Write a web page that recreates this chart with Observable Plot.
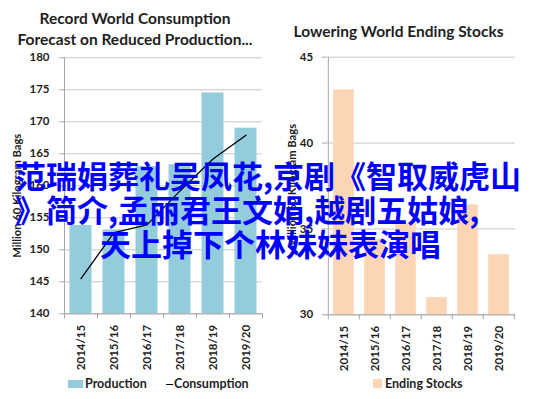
<!DOCTYPE html>
<html><head><meta charset="utf-8">
<script src="https://cdn.jsdelivr.net/npm/d3@7"></script>
<script src="https://cdn.jsdelivr.net/npm/@observablehq/plot@0.6"></script>
<style>
body{margin:0;background:#fff;}
#root{position:relative;width:537px;height:399px;overflow:hidden;font-family:Lato,"Open Sans",sans-serif;color:#1e1e1e;background:#fff;}
.title{position:absolute;text-align:center;font-weight:700;font-size:15.5px;line-height:21px;white-space:nowrap;}
.panel{position:absolute;top:45px;}
.legend{position:absolute;font-weight:700;font-size:12.5px;line-height:14px;white-space:nowrap;}
.sw{position:absolute;}
.overlay{position:absolute;font-family:"Noto Sans CJK SC";font-weight:700;font-size:31px;color:#0000ff;white-space:nowrap;line-height:34px;z-index:5;}
</style></head><body><div id="root">
<div class="title" style="left:0;width:270px;top:8px;">Record World Consumption<br>Forecast on Reduced Production...</div>
<div class="title" style="left:270px;width:257px;top:21px;">Lowering World Ending Stocks</div>
<div class="panel" id="leftPanel" style="left:0;"></div>
<div class="panel" id="rightPanel" style="left:270px;"></div>
<div class="sw" style="left:68px;top:380px;width:15px;height:8px;background:#93cddd;"></div>
<div class="legend" style="left:85px;top:377px;">Production</div>
<div class="sw" style="left:166px;top:383.5px;width:7px;height:1.3px;background:#000;"></div>
<div class="legend" style="left:174px;top:377px;">Consumption</div>
<div class="sw" style="left:373px;top:379px;width:9px;height:9px;background:#fcd5b5;"></div>
<div class="legend" style="left:385px;top:377px;">Ending Stocks</div>
<div class="overlay" style="left:15px;top:158px;">范瑞娟葬礼吴凤花,京剧《智取威虎山</div>
<div class="overlay" style="left:15px;top:192px;">》简介,孟丽君王文娟,越剧五姑娘,</div>
<div class="overlay" style="left:100px;top:226px;">天上掉下个林妹妹表演唱</div>
</div>
<script>
const categories = ["2014/15","2015/16","2016/17","2017/18","2018/19","2019/20"];
const production = [153.8, 153.1, 163.0, 163.3, 174.5, 169.0];
const consumption = [145.5, 152.7, 153.9, 159.2, 164.2, 167.9];
const endingStocks = [43.1, 34.4, 35.3, 31.0, 36.4, 33.5];
const productionTicks = [140, 145, 150, 155, 160, 165, 170, 175, 180];
const stocksTicks = [30, 35, 40, 45];
const yTitle = "Million 60 Kilogram Bags";

const rowsLeft = categories.map((c, i) => ({season: c, production: production[i], consumption: consumption[i]}));
const rowsRight = categories.map((c, i) => ({season: c, stocks: endingStocks[i]}));

const axisColor = "#a6a6a6", gridColor = "#c6c6c6";
const baseStyle = {fontFamily: "Lato, sans-serif", fontSize: "11.5px", fontWeight: 700, color: "#1e1e1e", background: "transparent", overflow: "visible"};

function panel({rows, ticks, field, fill, width, mL, mR, mT, mB, inset, titleDx, titleDy, extra}) {
  const step = (width - mL - mR) / categories.length;
  return Plot.plot({
    width, height: 330, marginLeft: mL, marginRight: mR, marginTop: mT, marginBottom: mB,
    style: baseStyle,
    x: {type: "band", domain: categories, padding: 0, axis: null},
    y: {domain: [ticks[0], ticks[ticks.length - 1]], axis: null},
    marks: [
      Plot.gridY(ticks, {stroke: gridColor, strokeOpacity: 1}),
      Plot.barY(rows, {x: "season", y1: ticks[0], y2: field, fill, insetLeft: inset, insetRight: inset}),
      ...extra,
      Plot.ruleY([ticks[0]], {stroke: axisColor}),
      Plot.ruleX([categories[0]], {dx: -step / 2, y1: ticks[0], y2: ticks[ticks.length - 1], stroke: axisColor}),
      Plot.axisY(ticks, {label: null, tickSize: 5, tickPadding: mL > 60 ? 10 : 9, stroke: axisColor, fontSize: 11.5}),
      Plot.axisX(categories, {label: null, tickSize: 5, dx: -step / 2, stroke: axisColor, tickFormat: () => ""}),
      Plot.axisX([categories[categories.length - 1]], {label: null, tickSize: 5, dx: step / 2, stroke: axisColor, tickFormat: () => ""}),
      Plot.axisX(categories, {label: null, tickSize: 0, tickPadding: 11, tickRotate: -90, fontSize: 11.5}),
      Plot.text([yTitle], {frameAnchor: "left", textAnchor: "middle", dx: titleDx, dy: titleDy, rotate: -90, fontSize: 11.2, fontWeight: 700})
    ]
  });
}

document.getElementById("leftPanel").append(panel({
  rows: rowsLeft, ticks: productionTicks, field: "production", fill: "#93cddd",
  width: 270, mL: 64, mR: 8, mT: 12.3, mB: 61.7, inset: 5.5, titleDx: -47, titleDy: 10,
  extra: [Plot.lineY(rowsLeft, {x: "season", y: "consumption", stroke: "#000", strokeWidth: 1.3})]
}));

document.getElementById("rightPanel").append(panel({
  rows: rowsRight, ticks: stocksTicks, field: "stocks", fill: "#fcd5b5",
  width: 267, mL: 56.7, mR: 22, mT: 11.7, mB: 60.7, inset: 5.2, titleDx: -34.7, titleDy: 0,
  extra: []
}));
</script>
</body></html>
